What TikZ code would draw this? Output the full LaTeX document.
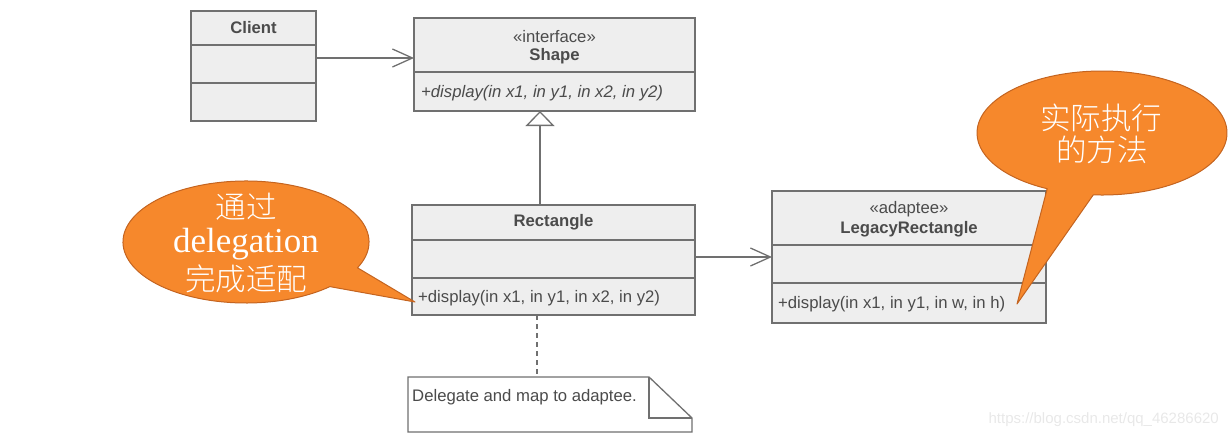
\documentclass[tikz,border=0pt]{standalone}
\usepackage{fontspec}
\newfontfamily\arial{Liberation Sans}
\newfontfamily\cjk{Noto Sans CJK SC}[UprightFont={* Light}]
\newfontfamily\tnr{Liberation Serif}
\usetikzlibrary{arrows.meta,calc}
\definecolor{boxfill}{RGB}{238,238,238}
\definecolor{boxdraw}{RGB}{112,112,112}
\definecolor{txt}{RGB}{75,75,75}
\definecolor{callfill}{RGB}{246,136,44}
\definecolor{calldraw}{RGB}{196,100,32}
\definecolor{wm}{RGB}{232,232,232}
\tikzset{
  classbox/.style={draw=boxdraw, fill=boxfill, line width=1.3pt, inner sep=0pt, outer sep=0pt},
  divider/.style={draw=boxdraw, line width=1.3pt},
  lbl/.style={anchor=base, inner sep=0pt, text=txt, font=\arial\fontsize{16.7}{18}\selectfont},
  lbll/.style={anchor=base west, inner sep=0pt, text=txt, font=\arial\fontsize{16.7}{18}\selectfont},
  assoc/.style={draw=boxdraw, line width=1.3pt, -{Straight Barb[length=20pt,width=18pt,line width=1.3pt]}},
  inherit/.style={draw=boxdraw, line width=1.3pt, -{Triangle[open,length=15pt,width=29pt,fill=white,line width=1.3pt]}},
  notelink/.style={draw=boxdraw, line width=1.3pt, dash pattern=on 5pt off 4pt},
  callout/.style={draw=calldraw, fill=callfill, line width=1pt, line join=round},
  calltext/.style={anchor=base, inner sep=0pt, text=white},
}
\begin{document}
\begin{tikzpicture}[x=1pt,y=-1pt]
\useasboundingbox (0,0) rectangle (1231,437);

% Client
\node[classbox, minimum width=125pt, minimum height=110pt] (client) at (253.5,66) {};
\draw[divider] (client.west |- 0,45) -- (client.east |- 0,45);
\draw[divider] (client.west |- 0,83) -- (client.east |- 0,83);
\node[lbl] (clientname) at (253.5,33) {\bfseries Client};

% Shape
\node[classbox, minimum width=281pt, minimum height=93pt] (shape) at (554.5,64.5) {};
\draw[divider] (shape.west |- 0,72) -- (shape.east |- 0,72);
\node[lbl] (shapest) at (554.5,42) {«interface»};
\node[lbl] (shapename) at (554.5,60) {\bfseries Shape};
\node[lbll] (shapeop) at (421,97) {\itshape +display(in x1, in y1, in x2, in y2)};

% Rectangle
\node[classbox, minimum width=283pt, minimum height=110pt] (rect) at (553.5,260) {};
\draw[divider] (rect.west |- 0,240) -- (rect.east |- 0,240);
\draw[divider] (rect.west |- 0,278) -- (rect.east |- 0,278);
\node[lbl] (rectname) at (553.5,226) {\bfseries Rectangle};
\node[lbll] (rectop) at (418,302) {+display(in x1, in y1, in x2, in y2)};

% LegacyRectangle
\node[classbox, minimum width=274pt, minimum height=132pt] (legacy) at (909,257) {};
\draw[divider] (legacy.west |- 0,245) -- (legacy.east |- 0,245);
\draw[divider] (legacy.west |- 0,283) -- (legacy.east |- 0,283);
\node[lbl] (legacyst) at (909,213) {«adaptee»};
\node[lbl] (legacyname) at (909,233) {\bfseries LegacyRectangle};
\node[lbll] (legacyop) at (778,308) {+display(in x1, in y1, in w, in h)};

% Note
\node[inner sep=0pt, outer sep=0pt, minimum width=284pt, minimum height=55pt] (note) at (550,404.5) {};
\draw[draw=boxdraw, fill=white, line width=1.3pt]
  (note.south west) -- (note.north west) -- (note.north west -| 649,0) -- (note.south east |- 0,418) -- (note.south east) -- cycle;
\draw[draw=boxdraw, line width=1.3pt] (note.north west -| 649,0) -- (649,418) -- (note.south east |- 0,418);
\node[lbll] (notetext) at (412,401) {Delegate and map to adaptee.};

% Connectors
\draw[assoc] (client.east |- 0,58) -- (shape.west |- 0,58);
\draw[inherit] (rect.north -| 540,0) -- (shape.south -| 540,0);
\draw[assoc] (rect.east |- legacy.west) -- (legacy.west);
\draw[notelink] (rect.south -| 537,0) -- (note.north -| 537,0);

% Left callout
\coordinate (lc) at (246,242);
\coordinate (ltip) at (415,302);
\draw[callout] ($(lc)+({123*cos(-25)},{-61*sin(-25)})$)
  arc[start angle=-25, end angle=313, x radius=123pt, y radius=61pt] -- (ltip) -- cycle;
\node[calltext, font=\cjk\fontsize{30.5}{32}\selectfont] (l1) at (246,218) {通过};
\node[calltext, font=\tnr\fontsize{35}{36}\selectfont] (l2) at (246,252) {delegation};
\node[calltext, font=\cjk\fontsize{30.5}{32}\selectfont] (l3) at (246,290) {完成适配};

% Right callout
\coordinate (rc) at (1102,133);
\coordinate (rtip) at (1017,304);
\draw[callout] ($(rc)+({125*cos(-94)},{-62*sin(-94)})$)
  arc[start angle=-94, end angle=244, x radius=125pt, y radius=62pt] -- (rtip) -- cycle;
\node[calltext, font=\cjk\fontsize{30.5}{32}\selectfont] (r1) at (1101,129) {实际执行};
\node[calltext, font=\cjk\fontsize{30.5}{32}\selectfont] (r2) at (1102,161) {的方法};

% Watermark
\node[anchor=base east, inner sep=0pt, text=wm, font=\arial\fontsize{15}{16}\selectfont] (wmark) at (1219,423) {https://blog.csdn.net/qq\_46286620};
\end{tikzpicture}
\end{document}
